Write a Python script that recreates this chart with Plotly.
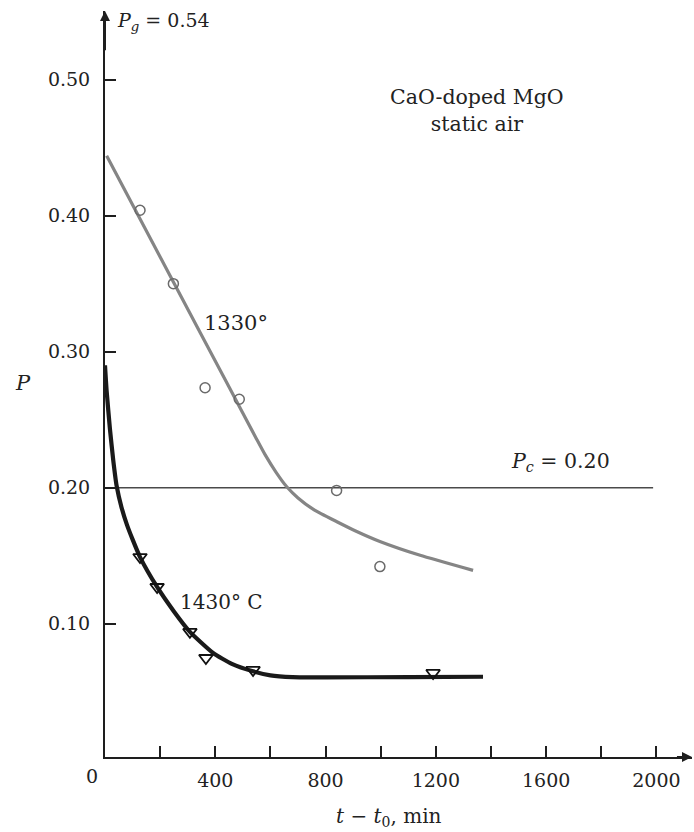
import plotly.graph_objects as go

# ---- data ----
t_1330_pts = [127, 248, 363, 487, 840, 997]
P_1330_pts = [0.404, 0.350, 0.2735, 0.265, 0.198, 0.142]

t_1330_fit = [6, 250, 450, 550, 580, 620, 660, 700, 760, 841, 907, 997, 1143, 1335]
P_1330_fit = [0.444, 0.3505, 0.274, 0.2357, 0.2245, 0.2115, 0.2005, 0.1925, 0.1835, 0.175,
              0.1684, 0.1605, 0.1503, 0.1392]

t_1430_pts = [127, 189, 308, 366, 537, 1190]
P_1430_pts = [0.149, 0.127, 0.094, 0.0748, 0.066, 0.0638]

t_1430_fit = [0, 6, 18, 30, 42, 60, 80, 100, 127, 189, 250, 308, 392, 460, 537, 600, 680, 800,
              1100, 1371]
P_1430_fit = [0.29, 0.271, 0.243, 0.220, 0.2015, 0.1855, 0.1725, 0.162, 0.149, 0.127, 0.109,
              0.094, 0.0785, 0.0705, 0.065, 0.062, 0.0607, 0.0605, 0.0608, 0.061]

Pc_t = [0, 1988]
Pc_val = [0.20, 0.20]

x_tickvals = [400, 800, 1200, 1600, 2000]
x_ticktext = ["400", "800", "1200", "1600", "2000"]
x_minor_step = 200
y_tickvals = [0.10, 0.20, 0.30, 0.40, 0.50]
y_ticktext = ["0.10", "0.20", "0.30", "0.40", "0.50"]

X_MAX = 2129
Y_MIN = 0.002
Y_MAX = 0.5505
FONT = "DejaVu Serif"
AX = "#1e1e1e"
TXT = "#222222"

fig = go.Figure()

fig.add_trace(go.Scatter(x=Pc_t, y=Pc_val, mode="lines",
                         line=dict(color="#4a4a4a", width=1.6), hoverinfo="skip"))
fig.add_trace(go.Scatter(x=t_1330_fit, y=P_1330_fit, mode="lines",
                         line=dict(color="#858585", width=3.2, shape="spline", smoothing=0.5)))
fig.add_trace(go.Scatter(x=t_1330_pts, y=P_1330_pts, mode="markers",
                         marker=dict(symbol="circle-open", size=10, color="#6a6a6a",
                                     line=dict(width=1.5, color="#6a6a6a"))))
fig.add_trace(go.Scatter(x=t_1430_fit, y=P_1430_fit, mode="lines",
                         line=dict(color="#1a1a1a", width=4.2, shape="spline", smoothing=0.5)))
fig.add_trace(go.Scatter(x=t_1430_pts, y=P_1430_pts, mode="markers",
                         marker=dict(symbol="triangle-down-open", size=12, color="#111111",
                                     line=dict(width=1.8, color="#111111"))))

def f(size):
    return dict(family=FONT, size=size, color=TXT)

ann = []
ann.append(dict(x=36, y=0.543, xref="x", yref="y", xanchor="left", yanchor="middle",
                text="<i>P</i><sub><i>g</i></sub> = 0.54", showarrow=False, font=f(19)))
ann.append(dict(x=1351, y=0.477, xref="x", yref="y", xanchor="center", yanchor="middle",
                text="CaO-doped MgO<br>static air", showarrow=False, font=f(20.5)))
ann.append(dict(x=353, y=0.321, xref="x", yref="y", xanchor="left", yanchor="middle",
                text="1330°", showarrow=False, font=f(21)))
ann.append(dict(x=265, y=0.116, xref="x", yref="y", xanchor="left", yanchor="middle",
                text="1430° C", showarrow=False, font=f(20)))
ann.append(dict(x=1465, y=0.219, xref="x", yref="y", xanchor="left", yanchor="middle",
                text="<i>P</i><sub><i>c</i></sub> = 0.20", showarrow=False, font=f(20.5)))
ann.append(dict(x=-0.140, y=0.277, xref="paper", yref="y", xanchor="center", yanchor="middle",
                text="<i>P</i>", showarrow=False, font=f(21)))
ann.append(dict(x=1030, y=-0.080, xref="x", yref="paper", xanchor="center", yanchor="middle",
                text="<i>t</i> − <i>t</i><sub>0</sub>, min", showarrow=False, font=f(20)))
ann.append(dict(x=-0.022, y=-0.026, xref="paper", yref="paper", xanchor="center", yanchor="middle",
                text="0", showarrow=False, font=f(19)))
# axis arrowheads
ann.append(dict(x=X_MAX, y=Y_MIN, ax=X_MAX - 60, ay=Y_MIN, xref="x", yref="y", axref="x", ayref="y",
                showarrow=True, arrowhead=2, arrowsize=1, arrowwidth=2, arrowcolor=AX, text=""))
ann.append(dict(x=0, y=Y_MAX, ax=0, ay=Y_MAX - 0.03, xref="x", yref="y", axref="x", ayref="y",
                showarrow=True, arrowhead=2, arrowsize=1, arrowwidth=2, arrowcolor=AX, text=""))

fig.update_layout(
    width=694, height=832,
    margin=dict(l=105, r=2, t=11, b=75, autoexpand=False),
    paper_bgcolor="white", plot_bgcolor="white",
    showlegend=False,
    font=dict(family=FONT, size=19, color=TXT),
    annotations=ann,
    xaxis=dict(range=[0, X_MAX], showgrid=False, zeroline=False, showline=True,
               linecolor=AX, linewidth=2, ticks="inside", ticklen=11, tickwidth=1.5,
               tickcolor=AX, tickvals=x_tickvals, ticktext=x_ticktext, automargin=False,
               tickfont=f(19), ticklabelstandoff=5,
               minor=dict(tick0=0, dtick=x_minor_step, ticks="inside", ticklen=11,
                          tickwidth=1.5, tickcolor=AX, showgrid=False)),
    yaxis=dict(range=[Y_MIN, Y_MAX], showgrid=False, zeroline=False, showline=True,
               linecolor=AX, linewidth=2, ticks="inside", ticklen=11, tickwidth=1.5,
               tickcolor=AX, tickvals=y_tickvals, ticktext=y_ticktext, automargin=False,
               tickfont=f(19), ticklabelstandoff=9),
)

fig.write_html("out.html", config={"displayModeBar": False},
               post_script="document.body.style.margin='0';")
